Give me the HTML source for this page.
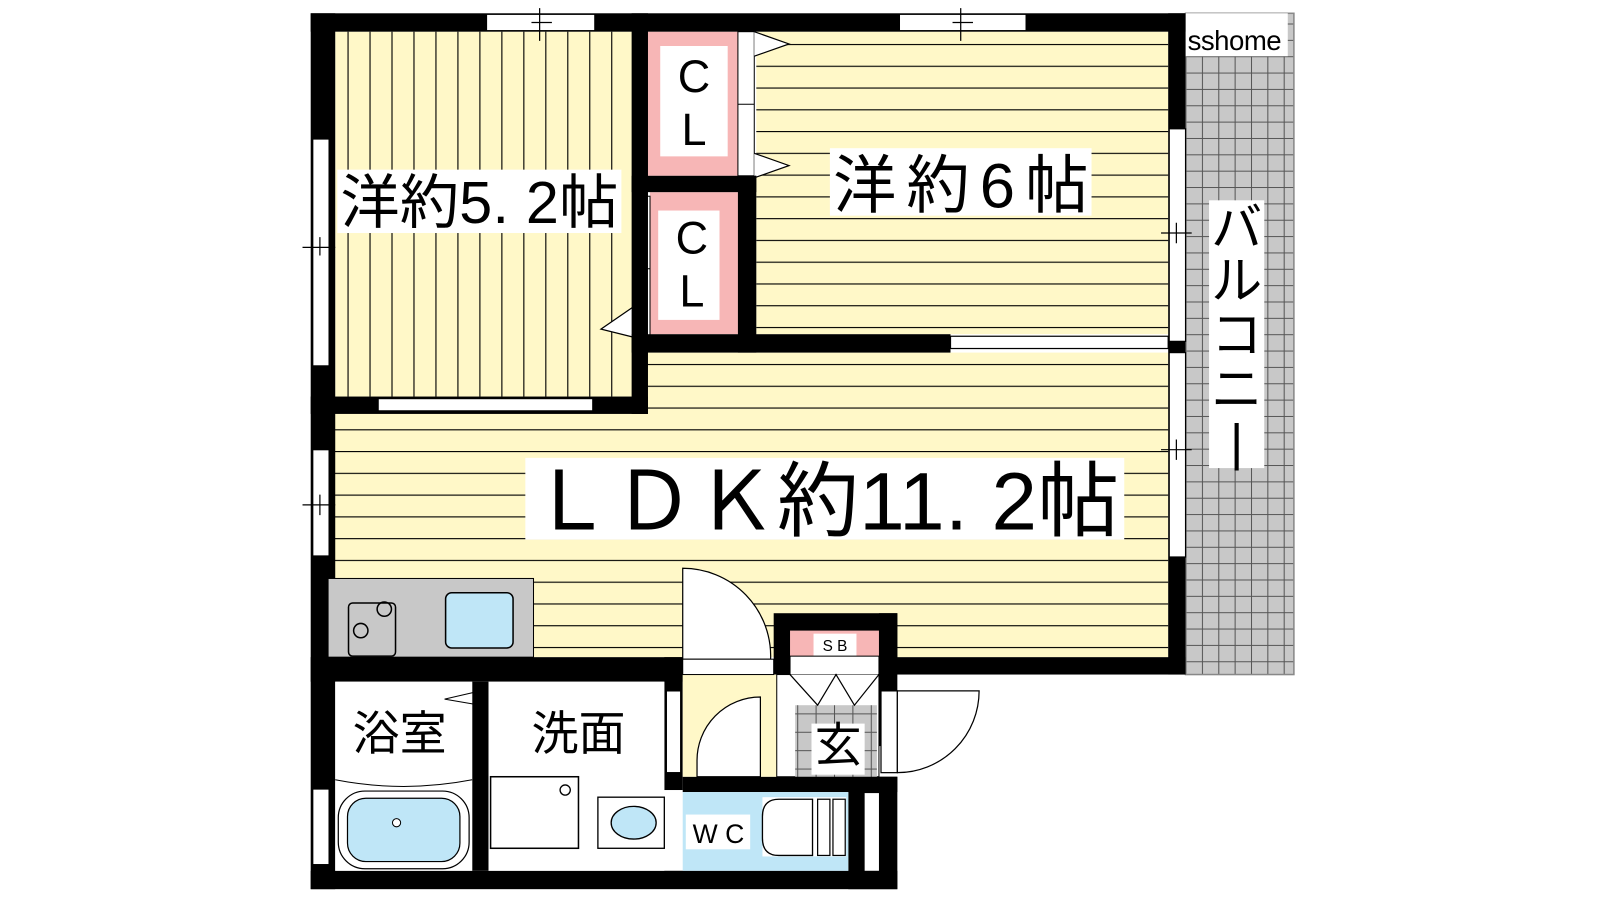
<!DOCTYPE html>
<html><head><meta charset="utf-8"><style>
html,body{margin:0;padding:0;background:#fff;width:1600px;height:900px;overflow:hidden}
svg text{font-family:"Liberation Sans","Noto Sans CJK JP",sans-serif}
</style></head><body>
<svg width="1600" height="900" viewBox="0 0 1565.5 880.6" preserveAspectRatio="none" xmlns="http://www.w3.org/2000/svg">
<defs>
<pattern id="vs" x="340" y="0" width="21.5" height="10" patternUnits="userSpaceOnUse"><rect width="21.5" height="10" fill="#fff8c8"/><line x1="0.5" y1="0" x2="0.5" y2="10" stroke="#000" stroke-width="1.2"/></pattern>
<pattern id="hs" x="0" y="43" width="10" height="21.3" patternUnits="userSpaceOnUse"><rect width="10" height="21.3" fill="#fff8c8"/><line x1="0" y1="0.5" x2="10" y2="0.5" stroke="#000" stroke-width="1.2"/></pattern>
<pattern id="hs2" x="0" y="420" width="10" height="21.3" patternUnits="userSpaceOnUse"><rect width="10" height="21.3" fill="#fff8c8"/><line x1="0" y1="0.5" x2="10" y2="0.5" stroke="#000" stroke-width="1.2"/></pattern>
<pattern id="grid" x="1160" y="55" width="16" height="16" patternUnits="userSpaceOnUse"><rect width="16" height="16" fill="#c8c8c8"/><path d="M0 0.5H16M0.5 0V16" stroke="#555" stroke-width="1"/></pattern>
<pattern id="grid2" x="780" y="680" width="18" height="18" patternUnits="userSpaceOnUse"><rect width="18" height="18" fill="#c8c8c8"/><path d="M0 0.5H18M0.5 0V18" stroke="#555" stroke-width="1"/></pattern>
</defs>
<!-- balcony -->
<rect x="1160" y="13" width="106" height="647" fill="url(#grid)" stroke="#888" stroke-width="1.5"/>
<rect x="1160" y="13" width="100" height="42" fill="#fff"/>
<text x="1162" y="49" font-size="27" fill="#000" textLength="92">sshome</text>
<rect x="1183" y="196" width="54" height="262" fill="#fff"/>
<text x="1210" y="240" font-size="50" text-anchor="middle">バ</text>
<text x="1210" y="292" font-size="50" text-anchor="middle">ル</text>
<text x="1210" y="345" font-size="50" text-anchor="middle">コ</text>
<text x="1210" y="398" font-size="50" text-anchor="middle">ニ</text>
<text x="1210" y="450" font-size="50" text-anchor="middle">|</text>
<!-- floors -->
<rect x="328" y="31" width="292" height="357" fill="url(#vs)"/>
<rect x="740" y="31" width="403" height="296" fill="url(#hs)"/>
<rect x="321" y="397" width="822" height="246" fill="url(#hs2)"/>
<rect x="632" y="345" width="511" height="52" fill="url(#hs2)"/>
<!-- closets -->
<rect x="632" y="31" width="92" height="141" fill="#f7b6b6"/>
<rect x="722" y="31" width="16" height="141" fill="#fff" stroke="#000"/>
<line x1="722" y1="102" x2="738" y2="102" stroke="#000"/>
<path d="M738 31 L772 43 L738 55 M738 150 L772 162 L738 174" fill="#fff" stroke="#000" stroke-width="1.2"/>
<rect x="636" y="188" width="86" height="139" fill="#f7b6b6"/>
<rect x="620" y="192" width="16" height="141" fill="#fff" stroke="#000"/>
<line x1="620" y1="263" x2="636" y2="263" stroke="#000"/>
<path d="M620 300 L588 322 L620 330" fill="#fff" stroke="#000" stroke-width="1.2"/>
<rect x="646" y="45" width="66" height="108" fill="#fff"/>
<rect x="644" y="206" width="60" height="107" fill="#fff"/>
<text x="679" y="90" font-size="44" text-anchor="middle">C</text>
<text x="679" y="142" font-size="44" text-anchor="middle">L</text>
<text x="677" y="248" font-size="44" text-anchor="middle">C</text>
<text x="677" y="300" font-size="44" text-anchor="middle">L</text>
<!-- walls -->
<g fill="#000">
<rect x="304" y="13" width="856" height="18"/>
<rect x="304" y="13" width="24" height="857"/>
<rect x="618" y="13" width="16" height="392"/>
<rect x="618" y="172" width="122" height="16"/>
<rect x="722" y="172" width="18" height="173"/>
<rect x="618" y="327" width="312" height="18"/>
<rect x="304" y="388" width="330" height="17"/>
<rect x="1143" y="13" width="17" height="647"/>
<rect x="862" y="643" width="298" height="17"/>
<rect x="304" y="643" width="364" height="24"/>
<rect x="304" y="852" width="574" height="18"/>
<rect x="462" y="667" width="16" height="185"/>
<rect x="650" y="643" width="18" height="130"/>
<rect x="668" y="760" width="210" height="15"/>
<rect x="830" y="760" width="48" height="110"/>
<rect x="757" y="600" width="121" height="60"/>
<rect x="860" y="600" width="18" height="130"/>
</g>
<!-- windows -->
<g fill="#fff" stroke="#000" stroke-width="1.2">
<rect x="476" y="14" width="106" height="16"/>
<rect x="880" y="14" width="124" height="16"/>
<rect x="306" y="136" width="16" height="222"/>
<rect x="306" y="440" width="16" height="104"/>
<rect x="306" y="772" width="16" height="74"/>
<rect x="1144" y="126" width="16" height="208"/>
<rect x="1144" y="345" width="16" height="200"/>
<rect x="370" y="390" width="210" height="12"/>
<rect x="930" y="329" width="213" height="12"/>
<rect x="862" y="676" width="16" height="80"/>
<rect x="652" y="676" width="14" height="80"/>
</g>
<path d="M528 8V40M520 22H540M940 8V40M932 22H952M296 242H328M313 232V250M296 494H328M313 484V504M1136 228H1166M1151 218V238M1136 440H1166M1151 430V450" stroke="#000" stroke-width="1.2"/>
<!-- kitchen -->
<rect x="321" y="566" width="201" height="77" fill="#c8c8c8" stroke="#000" stroke-width="1"/>
<rect x="341" y="590" width="46" height="52" rx="4" fill="none" stroke="#000" stroke-width="1.5"/>
<circle cx="353" cy="617" r="7" fill="none" stroke="#000" stroke-width="1.5"/>
<circle cx="376" cy="596" r="7" fill="none" stroke="#000" stroke-width="1.5"/>
<rect x="436" y="580" width="66" height="54" rx="6" fill="#bfe6f7" stroke="#000" stroke-width="1.5"/>
<!-- hallway -->
<rect x="668" y="660" width="92" height="100" fill="#fff8c8"/>
<path d="M668 556 A86 86 0 0 1 754 645 L668 645 Z" fill="#fff" stroke="#000" stroke-width="1.2"/>
<rect x="668" y="645" width="89" height="15" fill="#fff" stroke="#000"/>
<path d="M744 682 A62 62 0 0 0 682 745 L682 760 L744 760 Z" fill="#fff" stroke="#000" stroke-width="1.2"/>
<!-- genkan -->
<rect x="773" y="617" width="87" height="25" fill="#f7b6b6"/>
<rect x="796" y="620" width="42" height="22" fill="#fff"/>
<text x="817" y="637" font-size="15" text-anchor="middle">S B</text>
<rect x="773" y="642" width="87" height="18" fill="#fff" stroke="#000"/>
<rect x="760" y="660" width="100" height="100" fill="#fff" stroke="#000"/>
<rect x="778" y="690" width="80" height="70" fill="url(#grid2)"/>
<path d="M773 660 L800 690 L818 660 L836 690 L860 660" fill="#fff" stroke="#000" stroke-width="1.2"/>
<rect x="794" y="708" width="52" height="50" fill="#fff"/>
<text x="820" y="745" font-size="46" text-anchor="middle">玄</text>
<path d="M878 676 L958 676 A80 80 0 0 1 878 756 Z" fill="#fff" stroke="#000" stroke-width="1.2"/>
<!-- bath -->
<rect x="328" y="667" width="134" height="185" fill="#fff"/>
<path d="M328 763 Q395 776 462 763" fill="none" stroke="#000"/>
<path d="M470 676 L435 684 L470 690" fill="none" stroke="#000"/>
<rect x="331" y="774" width="128" height="76" rx="26" fill="#fff" stroke="#000" stroke-width="1.2"/>
<rect x="340" y="781" width="110" height="62" rx="18" fill="#bfe6f7" stroke="#000" stroke-width="1.2"/>
<circle cx="388" cy="805" r="4" fill="#fff" stroke="#000"/>
<text x="391" y="734" font-size="46" text-anchor="middle">浴室</text>
<!-- wash -->
<rect x="478" y="667" width="172" height="185" fill="#fff"/>
<rect x="480" y="760" width="86" height="70" fill="#fff" stroke="#000" stroke-width="1.5"/>
<circle cx="553" cy="773" r="5" fill="#fff" stroke="#000" stroke-width="1.3"/>
<rect x="585" y="780" width="65" height="50" fill="#fff" stroke="#000" stroke-width="1.3"/>
<ellipse cx="620" cy="805" rx="22" ry="16" fill="#bfe6f7" stroke="#000" stroke-width="1.3"/>
<text x="566" y="734" font-size="46" text-anchor="middle">洗面</text>
<!-- wc -->
<rect x="668" y="775" width="162" height="77" fill="#bfe6f7"/>
<rect x="671" y="797" width="63" height="34" fill="#fff"/>
<text x="703" y="825" font-size="26" text-anchor="middle">W C</text>
<rect x="746" y="780" width="82" height="58" fill="#fff"/>
<path d="M795 782 L762 782 Q746 782 746 799 L746 820 Q746 837 762 837 L795 837 Z" fill="#fff" stroke="#000" stroke-width="1.3"/>
<rect x="800" y="782" width="12" height="55" fill="#fff" stroke="#000" stroke-width="1.2"/>
<rect x="815" y="782" width="12" height="55" fill="#fff" stroke="#000" stroke-width="1.2"/>
<rect x="846" y="776" width="14" height="76" fill="#fff"/>
<!-- labels -->
<rect x="330" y="166" width="278" height="62" fill="#fff"/>
<text x="469" y="218" font-size="58" text-anchor="middle" textLength="272">洋約5. 2帖</text>
<rect x="812" y="145" width="256" height="66" fill="#fff"/>
<text x="940" y="203" font-size="62" text-anchor="middle" textLength="250">洋約6帖</text>
<rect x="514" y="448" width="586" height="80" fill="#fff"/>
<text x="807" y="518" font-size="80" text-anchor="middle" textLength="576">ＬＤＫ約11. 2帖</text>
</svg>
</body></html>
